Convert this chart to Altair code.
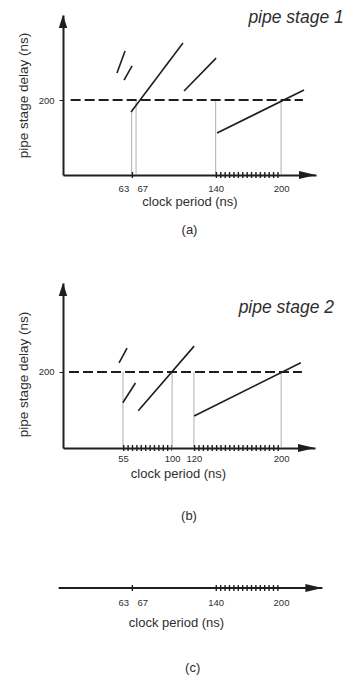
import altair as alt
import pandas as pd

FONT = "Liberation Sans"
INK = "#1e1e1e"
TEXT = "#2e2e2e"
GUIDE = "#9a9a9a"

# ---------------- panel (a): pipe stage 1 ----------------
A_TICKS = [63, 67, 140, 200]
A_SEG_X = [49.5, 56.0, 62.4, 111.0, 141.3]
A_SEG_Y = [272, 253, 168, 224, 112]
A_SEG_X2 = [56.9, 63.3, 110.0, 140.4, 221.0]
A_SEG_Y2 = [331, 291, 352, 312, 227]
A_GUIDE_X = [63, 67, 140, 200]
A_GUIDE_TOP = [168, 200, 200, 200]
A_HATCH_FROM = [63, 140]
A_HATCH_TO = [67, 200]
A_LIMIT = 200
A_LIMIT_SPAN = [7, 220]
A_X_MAX = 232
A_Y_MAX = 427
A_LABEL = "pipe stage 1"
A_LABEL_POS = [170, 419]

# ---------------- panel (b): pipe stage 2 ----------------
B_TICKS = [55, 100, 120, 200]
B_SEG_X = [51.4, 54.8, 69.0, 120.2]
B_SEG_Y = [224, 119, 98, 84]
B_SEG_X2 = [58.7, 66.4, 120.2, 218.0]
B_SEG_Y2 = [263, 171, 268, 224]
B_GUIDE_X = [55, 100, 120, 200]
B_GUIDE_TOP = [200, 200, 200, 200]
B_HATCH_FROM = [55, 120]
B_HATCH_TO = [100, 200]
B_LIMIT = 200
B_LIMIT_SPAN = [5.5, 219]
B_X_MAX = 231
B_Y_MAX = 434
B_LABEL = "pipe stage 2"
B_LABEL_POS = [161, 368]

# ---------------- panel (c): combined ----------------
C_TICKS = [63, 67, 140, 200]
C_HATCH_FROM = [63, 140]
C_HATCH_TO = [67, 200]
C_AXIS_SPAN = [-4, 238]
C_X_MAX = 238

X_TITLE = "clock period (ns)"
Y_TITLE = "pipe stage delay (ns)"

ARROW_UP = "M0,0 L0.65,2 L-0.65,2 Z"
ARROW_RIGHT = "M0,0 L-2,-0.47 L-2,0.47 Z"

LABEL_ALIGN = {"expr": "datum.value == 63 ? 'right' : datum.value == 67 ? 'left' : 'center'"}
LABEL_OFFSET = {"expr": "datum.value == 63 ? -3 : datum.value == 67 ? 1 : 0"}


def x_axis(ticks, label_pad, title_pad, title_x=None, domain=True):
    kw = dict(
        values=ticks, title=X_TITLE, grid=False, ticks=False, tickSize=0,
        domain=domain, domainColor=INK, domainWidth=2,
        labelFontSize=9.5, labelPadding=label_pad, labelColor=TEXT,
        labelOverlap=False, labelAlign=LABEL_ALIGN, labelOffset=LABEL_OFFSET,
        titleFontSize=13, titleFontWeight="normal", titleColor=TEXT,
        titlePadding=title_pad,
    )
    if title_x is not None:
        kw["titleX"] = title_x
    return alt.Axis(**kw)


def stage_panel(ticks, sx, sy, sx2, sy2, gx, gtop, hf, ht, limit, lspan,
                x_max, y_max, width, height, label, lpos,
                lab_pad, tit_pad, title_x, title_y, tag, tag_offset):
    xs = alt.Scale(domain=[0, x_max], nice=False, zero=False)
    ys = alt.Scale(domain=[0, y_max], nice=False, zero=False)
    ykw = dict(
        values=[limit], title=Y_TITLE, grid=False, ticks=True, tickSize=4,
        tickColor=INK, tickWidth=1, domainColor=INK, domainWidth=2,
        labelFontSize=9.5, labelPadding=5, labelColor=TEXT,
        titleFontSize=13.5, titleFontWeight="normal", titleColor=TEXT,
        titlePadding=7.5,
    )
    if title_y is not None:
        ykw["titleY"] = title_y
    yaxis = alt.Axis(**ykw)
    X = alt.X("x:Q", scale=xs, axis=x_axis(ticks, lab_pad, tit_pad, title_x))
    Y = alt.Y("y:Q", scale=ys, axis=yaxis)

    seg_df = pd.DataFrame({"x": sx, "y": sy, "x2": sx2, "y2": sy2})
    guide_df = pd.DataFrame({"x": gx, "y": [0] * len(gx), "y2": gtop})
    hatch_df = pd.DataFrame({"x": hf, "x2": ht, "y": [0] * len(hf)})
    limit_df = pd.DataFrame({"x": [lspan[0]], "x2": [lspan[1]], "y": [limit]})
    up_df = pd.DataFrame({"x": [0], "y": [y_max]})
    right_df = pd.DataFrame({"x": [x_max], "y": [0]})
    label_df = pd.DataFrame({"x": [lpos[0]], "y": [lpos[1]], "t": [label]})

    guides = alt.Chart(guide_df).mark_rule(color=GUIDE, strokeWidth=0.8).encode(
        x=X, y=Y, y2="y2:Q")
    limit_l = alt.Chart(limit_df).mark_rule(
        color=INK, strokeWidth=2, strokeDash=[10, 4]).encode(x=X, x2="x2:Q", y=Y)
    segs = alt.Chart(seg_df).mark_rule(color=INK, strokeWidth=1.6).encode(
        x=X, y=Y, x2="x2:Q", y2="y2:Q")
    hatch = alt.Chart(hatch_df).mark_rule(
        color=INK, strokeWidth=6, strokeDash=[1.4, 3]).encode(x=X, x2="x2:Q", y=Y)
    up = alt.Chart(up_df).mark_point(
        shape=ARROW_UP, size=169, filled=True, color=INK, opacity=1).encode(x=X, y=Y)
    right = alt.Chart(right_df).mark_point(
        shape=ARROW_RIGHT, size=289, filled=True, color=INK, opacity=1).encode(x=X, y=Y)
    text = alt.Chart(label_df).mark_text(
        align="left", baseline="middle", fontStyle="italic", fontSize=17.5,
        color=TEXT).encode(x=X, y=Y, text="t:N")

    return alt.layer(guides, limit_l, segs, hatch, up, right, text).properties(
        width=width, height=height,
        title=alt.TitleParams(tag, orient="bottom", fontSize=13,
                              fontWeight="normal", color=TEXT, offset=tag_offset),
    )


panel_a = stage_panel(A_TICKS, A_SEG_X, A_SEG_Y, A_SEG_X2, A_SEG_Y2,
                      A_GUIDE_X, A_GUIDE_TOP, A_HATCH_FROM, A_HATCH_TO,
                      A_LIMIT, A_LIMIT_SPAN, A_X_MAX, A_Y_MAX, 253, 160,
                      A_LABEL, A_LABEL_POS, 8, 3, None, None, "(a)", 15)

panel_b = stage_panel(B_TICKS, B_SEG_X, B_SEG_Y, B_SEG_X2, B_SEG_Y2,
                      B_GUIDE_X, B_GUIDE_TOP, B_HATCH_FROM, B_HATCH_TO,
                      B_LIMIT, B_LIMIT_SPAN, B_X_MAX, B_Y_MAX, 252, 165,
                      B_LABEL, B_LABEL_POS, 5, 5, 115, 91, "(b)", 29)

# ---------------- panel (c) ----------------
cxs = alt.Scale(domain=[0, C_X_MAX], nice=False, zero=False)
cys = alt.Scale(domain=[0, 1], nice=False, zero=False)
CX = alt.X("x:Q", scale=cxs, axis=x_axis(C_TICKS, 9, 10, 113, domain=False))
CY = alt.Y("y:Q", scale=cys, axis=None)

c_axis_df = pd.DataFrame({"x": [C_AXIS_SPAN[0]], "x2": [C_AXIS_SPAN[1]], "y": [0]})
c_hatch_df = pd.DataFrame({"x": C_HATCH_FROM, "x2": C_HATCH_TO, "y": [0] * len(C_HATCH_FROM)})
c_right_df = pd.DataFrame({"x": [C_X_MAX], "y": [0]})

c_line = alt.Chart(c_axis_df).mark_rule(color=INK, strokeWidth=2).encode(
    x=CX, x2="x2:Q", y=CY)
c_hatch = alt.Chart(c_hatch_df).mark_rule(
    color=INK, strokeWidth=6, strokeDash=[1.4, 3]).encode(x=CX, x2="x2:Q", y=CY)
c_arrow = alt.Chart(c_right_df).mark_point(
    shape=ARROW_RIGHT, size=289, filled=True, color=INK, opacity=1).encode(x=CX, y=CY)

panel_c = alt.layer(c_line, c_hatch, c_arrow).properties(
    width=round(C_X_MAX * 1.09, 1), height=19,
    title=alt.TitleParams("(c)", orient="bottom", fontSize=13,
                          fontWeight="normal", color=TEXT, offset=32),
)

chart = alt.vconcat(panel_a, panel_b, panel_c, spacing=46).properties(
    padding={"left": 8, "top": 0, "right": 0, "bottom": 0},
    background="white",
).configure(font=FONT, view=alt.ViewConfig(stroke=None))

chart.save("out.html", embed_options={"renderer": "svg", "actions": False})
